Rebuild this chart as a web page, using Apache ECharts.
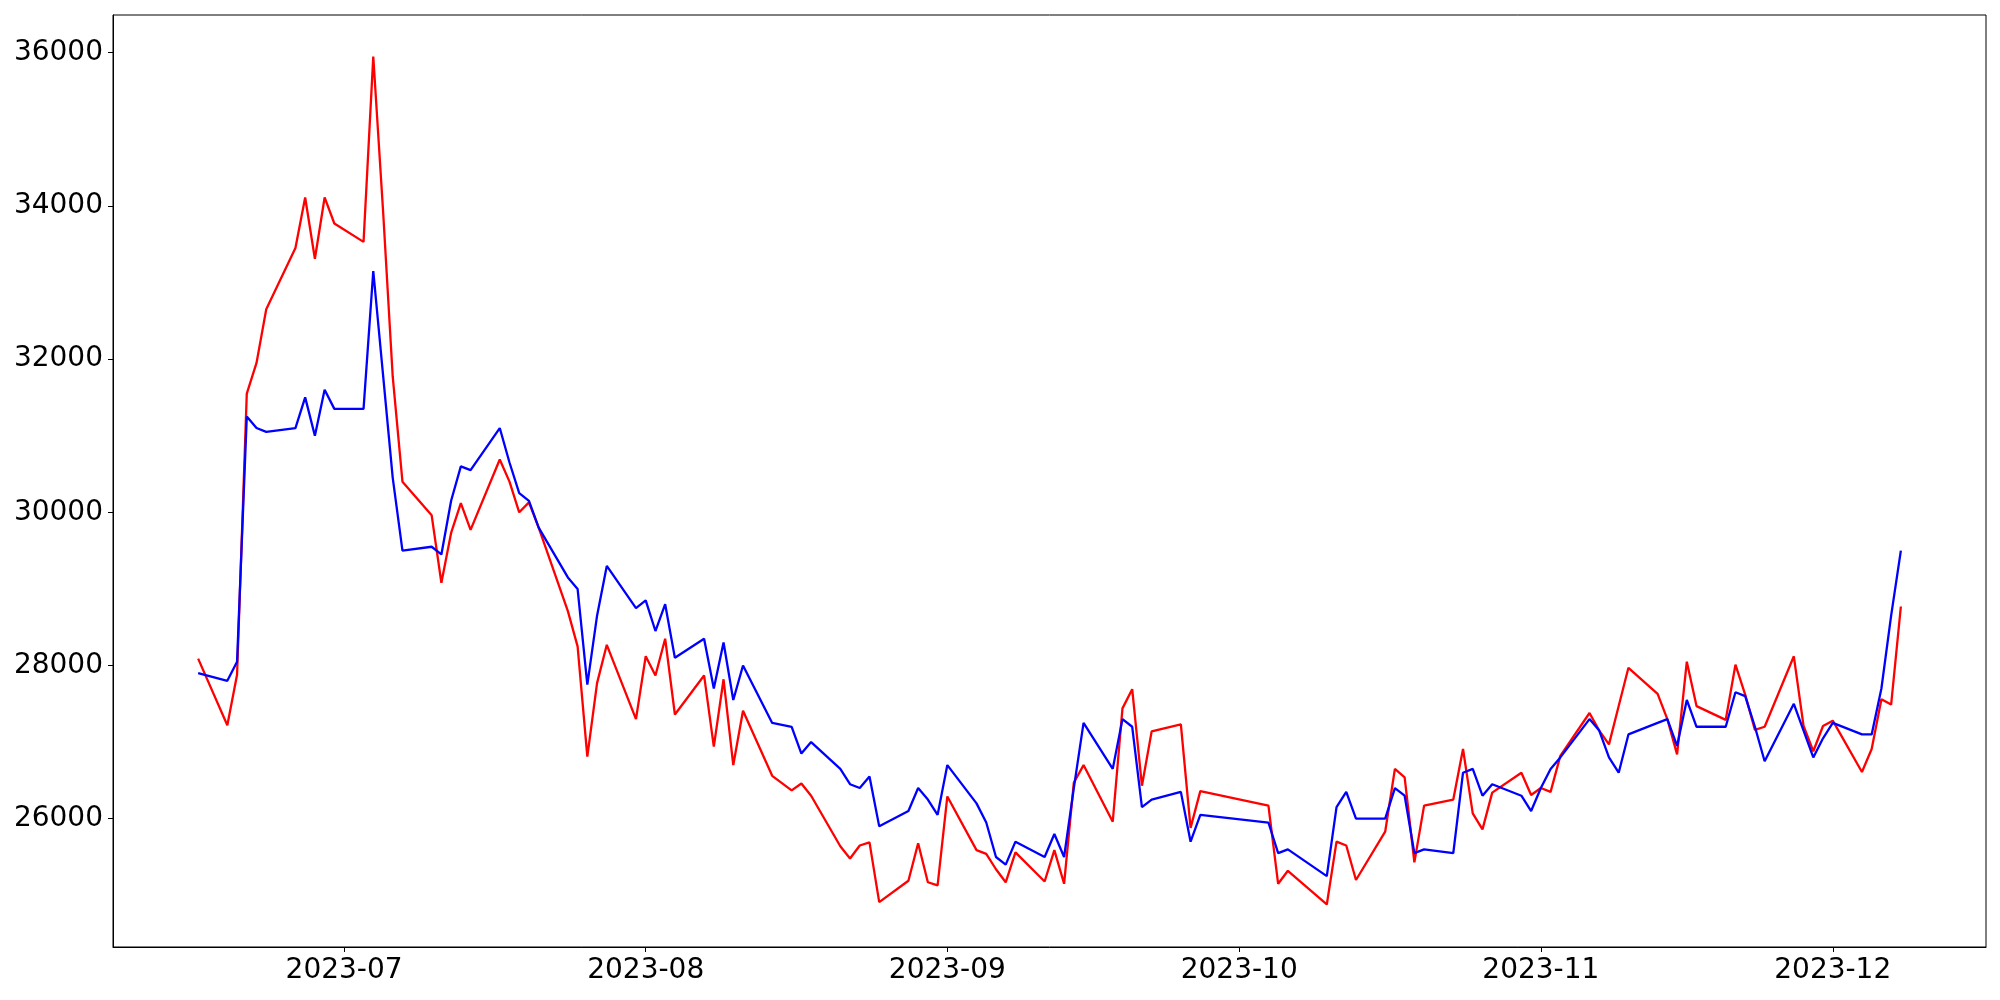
<!DOCTYPE html>
<html><head><meta charset="utf-8">
<script src="https://cdn.jsdelivr.net/npm/echarts@6/dist/echarts.min.js"></script>
<style>html,body{margin:0;padding:0;background:#fff}#chart{width:2000px;height:1000px}</style>
</head><body><div id="chart"></div>
<script>
// Trading days (Korean market calendar)
const dates = [
  '2023-06-16','2023-06-19','2023-06-20','2023-06-21','2023-06-22','2023-06-23','2023-06-26','2023-06-27','2023-06-28','2023-06-29','2023-06-30',
  '2023-07-03','2023-07-04','2023-07-05','2023-07-06','2023-07-07','2023-07-10','2023-07-11','2023-07-12','2023-07-13','2023-07-14',
  '2023-07-17','2023-07-18','2023-07-19','2023-07-20','2023-07-21','2023-07-24','2023-07-25','2023-07-26','2023-07-27','2023-07-28','2023-07-31',
  '2023-08-01','2023-08-02','2023-08-03','2023-08-04','2023-08-07','2023-08-08','2023-08-09','2023-08-10','2023-08-11',
  '2023-08-14','2023-08-16','2023-08-17','2023-08-18','2023-08-21','2023-08-22','2023-08-23','2023-08-24','2023-08-25',
  '2023-08-28','2023-08-29','2023-08-30','2023-08-31',
  '2023-09-01','2023-09-04','2023-09-05','2023-09-06','2023-09-07','2023-09-08','2023-09-11','2023-09-12','2023-09-13','2023-09-14','2023-09-15',
  '2023-09-18','2023-09-19','2023-09-20','2023-09-21','2023-09-22','2023-09-25','2023-09-26','2023-09-27',
  '2023-10-04','2023-10-05','2023-10-06','2023-10-10','2023-10-11','2023-10-12','2023-10-13','2023-10-16','2023-10-17','2023-10-18','2023-10-19','2023-10-20',
  '2023-10-23','2023-10-24','2023-10-25','2023-10-26','2023-10-27','2023-10-30','2023-10-31',
  '2023-11-01','2023-11-02','2023-11-03','2023-11-06','2023-11-07','2023-11-08','2023-11-09','2023-11-10','2023-11-13','2023-11-14','2023-11-15','2023-11-16','2023-11-17',
  '2023-11-20','2023-11-21','2023-11-22','2023-11-23','2023-11-24','2023-11-27','2023-11-28','2023-11-29','2023-11-30',
  '2023-12-01','2023-12-04','2023-12-05','2023-12-06','2023-12-07','2023-12-08'
];

// Red line
const redValues = [
  28090,27220,27880,31550,31950,32650,33450,34110,33310,34110,33770,
  33530,35950,33950,31770,30400,29960,29080,29730,30120,29770,
  30690,30400,30000,30130,29800,28710,28250,26810,27770,28270,27300,
  28120,27870,28350,27360,27870,26940,27820,26700,27410,
  26560,26370,26460,26300,25640,25480,25650,25690,24910,
  25190,25680,25170,25130,
  26290,25590,25540,25340,25170,25560,25180,25590,25150,26470,26700,
  25960,27440,27690,26430,27140,27230,25880,26360,
  26170,25150,25320,24880,25700,25650,25200,25830,26650,26540,25430,26170,
  26250,26910,26070,25860,26340,26600,26310,
  26400,26350,26820,27380,27150,26970,27470,27970,27630,27300,26840,28050,27470,
  27290,28010,27620,27160,27200,28120,27210,26880,27210,
  27280,26610,26910,27560,27490,28770
];

// Blue line
const blueValues = [
  27900,27800,28050,31250,31100,31050,31100,31500,31000,31600,31350,
  31350,33150,31800,30450,29500,29550,29450,30150,30600,30550,
  31100,30650,30250,30150,29800,29150,29000,27750,28650,29300,28750,
  28850,28450,28800,28100,28350,27700,28300,27550,28000,
  27250,27200,26850,27000,26650,26450,26400,26550,25900,
  26100,26400,26250,26050,
  26700,26200,25950,25500,25400,25700,25500,25800,25500,26400,27250,
  26650,27300,27200,26150,26250,26350,25700,26050,
  25950,25550,25600,25250,26150,26350,26000,26000,26400,26300,25550,25600,
  25550,26600,26650,26300,26450,26300,26100,
  26400,26650,26800,27300,27150,26800,26600,27100,27250,27300,26950,27550,27200,
  27200,27650,27600,27200,26750,27500,27150,26800,27050,
  27250,27100,27100,27700,28650,29500
];

const yTicks = [26000, 28000, 30000, 32000, 34000, 36000];
const xTickDates = ['2023-07-01','2023-08-01','2023-09-01','2023-10-01','2023-11-01','2023-12-01'];

function toTime(s) { const p = s.split('-').map(Number); return Date.UTC(p[0], p[1]-1, p[2]); }

const t0 = toTime(dates[0]);
const t1 = toTime(dates[dates.length - 1]);
const span = t1 - t0;
const xMin = t0 - 0.05 * span;
const xMax = t1 + 0.05 * span;
const xTickValues = xTickDates.map(toTime);

const chart = echarts.init(document.getElementById('chart'), null, {renderer: 'canvas'});
const font = 'DejaVu Sans';
chart.setOption({
  animation: false,
  backgroundColor: '#ffffff',
  grid: {left: 113, right: 14, top: 15, bottom: 53, show: true, borderColor: '#000', borderWidth: 1, containLabel: false},
  xAxis: {
    type: 'value', min: xMin, max: xMax, scale: true,
    axisLine: {show: true, onZero: false, lineStyle: {color: '#000', width: 1}},
    axisTick: {show: true, inside: false, length: 5, lineStyle: {color: '#000', width: 1}, customValues: xTickValues},
    axisLabel: {
      show: true, fontSize: 28, fontFamily: font, color: '#000', margin: 10,
      customValues: xTickValues,
      formatter: function (v) { const d = new Date(v); return d.getUTCFullYear() + '-' + String(d.getUTCMonth() + 1).padStart(2, '0'); }
    },
    splitLine: {show: false}
  },
  yAxis: {
    type: 'value', min: 24325, max: 36492,
    axisLine: {show: true, onZero: false, lineStyle: {color: '#000', width: 1}},
    axisTick: {show: true, inside: false, length: 5, lineStyle: {color: '#000', width: 1}, customValues: yTicks},
    axisLabel: {show: true, fontSize: 28, fontFamily: font, color: '#000', margin: 10, customValues: yTicks,
      formatter: function (v) { return String(Math.round(v)); }},
    splitLine: {show: false}
  },
  series: [
    {type: 'line', data: dates.map((d, i) => [toTime(d), redValues[i]]), showSymbol: false, symbol: 'none',
     lineStyle: {color: '#ff0000', width: 2.3}, itemStyle: {color: '#ff0000'}, z: 2},
    {type: 'line', data: dates.map((d, i) => [toTime(d), blueValues[i]]), showSymbol: false, symbol: 'none',
     lineStyle: {color: '#0000ff', width: 2.3}, itemStyle: {color: '#0000ff'}, z: 3}
  ]
});
</script>
</body></html>
